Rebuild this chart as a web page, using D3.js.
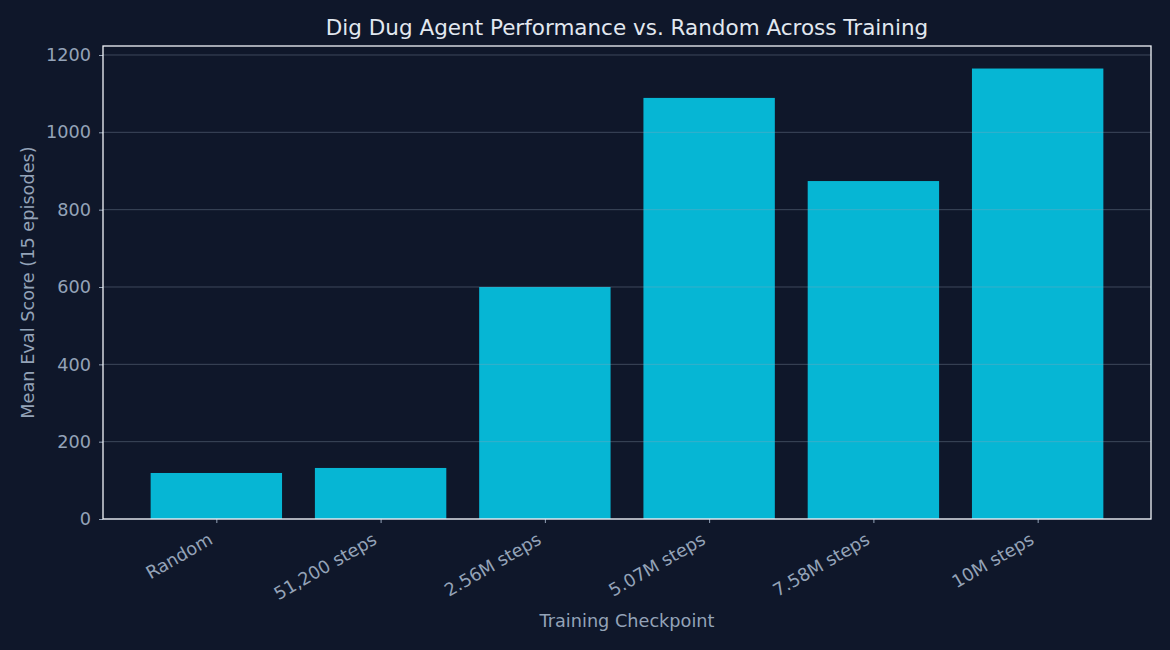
<html>
<head>
<script src="https://cdn.jsdelivr.net/npm/d3@7"></script>
<style>
  body { margin: 0; background: #0f172a; }
  text { font-family: "DejaVu Sans", sans-serif; }
</style>
</head>
<body>
<svg width="1170" height="650"></svg>
<script>
var categories = ["Random", "51,200 steps", "2.56M steps", "5.07M steps", "7.58M steps", "10M steps"];
var scores = [119, 132, 600, 1089, 874, 1165];
var yTicks = [0, 200, 400, 600, 800, 1000, 1200];

var svg = d3.select("svg"),
    margin = {top: 46, right: 19, bottom: 131, left: 103},
    width = +svg.attr("width") - margin.left - margin.right,
    height = +svg.attr("height") - margin.top - margin.bottom,
    g = svg.append("g").attr("transform", "translate(" + margin.left + "," + margin.top + ")");

svg.insert("rect", ":first-child").attr("width", 1170).attr("height", 650).attr("fill", "#0f172a");

// matplotlib-like linear x: bars at 0..n-1, width 0.8, 5% margins
var n = categories.length;
var lo = -0.4, hi = n - 1 + 0.4, pad = (hi - lo) * 0.05;
var x = d3.scaleLinear().domain([lo - pad, hi + pad]).range([0, width]);
var yMax = d3.max(scores) * 1.05;
var y = d3.scaleLinear().domain([0, yMax]).range([height, 0]);

g.selectAll(".bar")
    .data(scores)
    .enter().append("rect")
    .attr("class", "bar")
    .attr("x", function (d, i) { return x(i - 0.4); })
    .attr("y", function (d) { return y(d); })
    .attr("width", x(0.8) - x(0))
    .attr("height", function (d) { return height - y(d); })
    .attr("fill", "#06b6d4");

// grid on top of bars
g.append("g")
    .selectAll("line")
    .data(yTicks)
    .enter().append("line")
    .attr("x1", 0).attr("x2", width)
    .attr("y1", function (d) { return y(d); })
    .attr("y2", function (d) { return y(d); })
    .attr("stroke", "#94a3b8")
    .attr("stroke-opacity", 0.35)
    .attr("stroke-width", 1);

// y axis
var yAxis = g.append("g")
    .call(d3.axisLeft(y).tickValues(yTicks).tickSize(4).tickPadding(8).tickFormat(d3.format("d")));
yAxis.select(".domain").remove();
yAxis.selectAll("line").attr("stroke", "#94a3b8");
yAxis.selectAll("text").attr("fill", "#94a3b8").style("font-size", "17.7px");

// x axis
var xAxis = g.append("g")
    .attr("transform", "translate(0," + height + ")")
    .call(d3.axisBottom(x).tickValues(d3.range(n)).tickSize(4).tickFormat(function (i) { return categories[i]; }));
xAxis.select(".domain").remove();
xAxis.selectAll("line").attr("stroke", "#94a3b8");
xAxis.selectAll("text")
    .attr("fill", "#94a3b8")
    .style("font-size", "17.7px")
    .attr("text-anchor", "end")
    .attr("y", 0).attr("dy", "0")
    .attr("transform", "translate(-3,24) rotate(-30)");

// frame
g.append("rect")
    .attr("width", width).attr("height", height)
    .attr("fill", "none")
    .attr("stroke", "#f1f5f9")
    .attr("stroke-width", 1.3);

svg.append("text")
    .attr("x", margin.left + width / 2).attr("y", 35)
    .attr("text-anchor", "middle")
    .attr("fill", "#e2e8f0")
    .style("font-size", "21.5px")
    .text("Dig Dug Agent Performance vs. Random Across Training");

svg.append("text")
    .attr("x", margin.left + width / 2).attr("y", 627)
    .attr("text-anchor", "middle")
    .attr("fill", "#94a3b8")
    .style("font-size", "17.7px")
    .text("Training Checkpoint");

svg.append("text")
    .attr("transform", "translate(34," + (margin.top + height / 2) + ") rotate(-90)")
    .attr("text-anchor", "middle")
    .attr("fill", "#94a3b8")
    .style("font-size", "17.7px")
    .text("Mean Eval Score (15 episodes)");
</script>
</body>
</html>
